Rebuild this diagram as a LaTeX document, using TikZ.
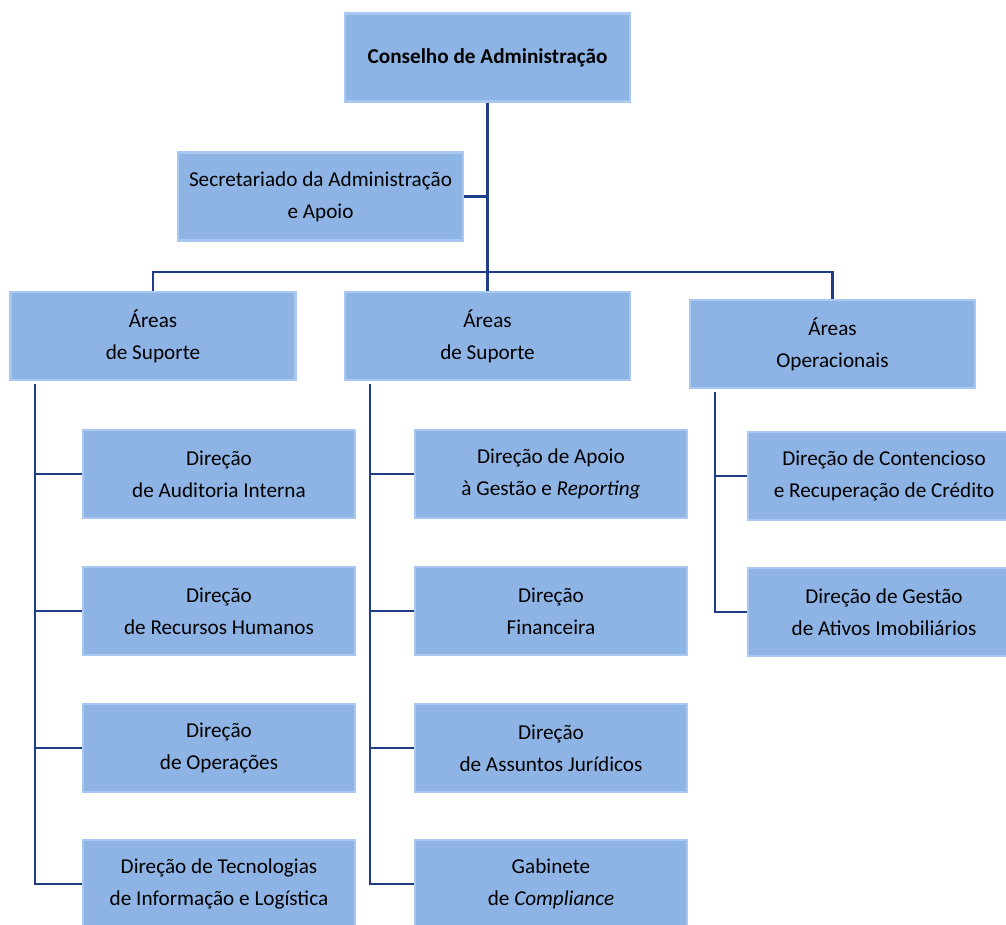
\documentclass[tikz,border=0pt]{standalone}
\usepackage{fontspec}
\setmainfont{Carlito}
\definecolor{caixa}{RGB}{142,180,229}
\definecolor{borda}{RGB}{168,200,240}
\definecolor{traco}{RGB}{31,60,136}
\begin{document}
\begin{tikzpicture}[x=0.5pt,y=-0.5pt]
    \tikzset{orgao/.style={fill=caixa, draw=borda, line width=1.2pt, align=center,
        inner sep=0pt, minimum width=142.5pt, minimum height=44pt,
        font=\fontsize{10.6}{16}\selectfont}}
    \tikzset{direcao/.style={orgao, minimum width=136pt}}
    \tikzset{ligacao/.style={draw=traco, line width=1.3pt}}
    \useasboundingbox (0,0) rectangle (1006,925);
    % topo
    \node[orgao] (cons) at (487.5, 57.5) {\textbf{Conselho de Administração}};
    \node[orgao] (sec) at (320.5, 196.5) {Secretariado da Administração\\e Apoio};
    % areas
    \node[orgao] (sup1) at (153, 336) {Áreas\\de Suporte};
    \node[orgao] (sup2) at (487.5, 336) {Áreas\\de Suporte};
    \node[orgao] (oper) at (832.5, 344) {Áreas\\Operacionais};
    % direcoes
    \node[direcao] (audit) at (219, 474) {Direção\\de Auditoria Interna};
    \node[direcao] (rh) at (219, 611) {Direção\\de Recursos Humanos};
    \node[direcao] (ops) at (219, 748) {Direção\\de Operações};
    \node[direcao] (ti) at (219, 884) {Direção de Tecnologias\\de Informação e Logística};
    \node[direcao] (agr) at (551, 474) {Direção de Apoio\\à Gestão e \emph{Reporting}};
    \node[direcao] (fin) at (551, 611) {Direção\\Financeira};
    \node[direcao] (jur) at (551, 748) {Direção\\de Assuntos Jurídicos};
    \node[direcao] (comp) at (551, 884) {Gabinete\\de \emph{Compliance}};
    \node[direcao] (cont) at (884, 476) {Direção de Contencioso\\e Recuperação de Crédito};
    \node[direcao] (imob) at (884, 612) {Direção de Gestão\\de Ativos Imobiliários};
    % ligacoes
    \coordinate (bus) at (487.5, 272);
    \coordinate (t1) at (35, 384);
    \coordinate (t2) at (370, 384);
    \coordinate (t3) at (715, 392);
    \draw[ligacao] (cons.south) -- (bus);
    \draw[ligacao] (sec.east) -- (sec.east -| bus);
    \draw[ligacao] (sup1.north) |- (bus) -| (oper.north);
    \draw[ligacao] (bus) -- (sup2.north);
    \foreach \d in {audit, rh, ops, ti}
        \draw[ligacao] (t1) |- (\d.west);
    \foreach \d in {agr, fin, jur, comp}
        \draw[ligacao] (t2) |- (\d.west);
    \foreach \d in {cont, imob}
        \draw[ligacao] (t3) |- (\d.west);
\end{tikzpicture}
\end{document}
